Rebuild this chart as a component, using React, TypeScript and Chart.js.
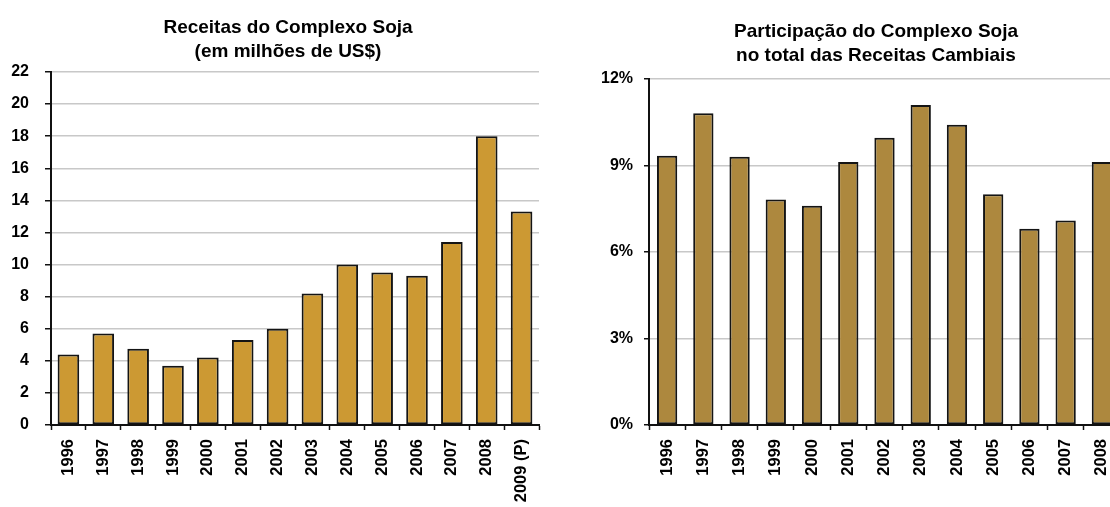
import React, { useEffect, useRef } from "react";
import { Chart, registerables } from "chart.js";

Chart.register(...registerables);

const leftCategories = ["1996", "1997", "1998", "1999", "2000", "2001", "2002", "2003", "2004", "2005", "2006", "2007", "2008", "2009 (P)"];
const leftValues = [4.4, 5.7, 4.75, 3.7, 4.2, 5.3, 6.0, 8.2, 10.0, 9.5, 9.3, 11.4, 18.0, 13.3];
const leftTitle = ["Receitas do Complexo Soja", "(em milhões de US$)"];

const rightCategories = ["1996", "1997", "1998", "1999", "2000", "2001", "2002", "2003", "2004", "2005", "2006", "2007", "2008"];
const rightValues = [9.34, 10.81, 9.3, 7.82, 7.6, 9.12, 9.96, 11.1, 10.41, 8.0, 6.81, 7.09, 9.12];
const rightTitle = ["Participação do Complexo Soja", "no total das Receitas Cambiais"];

const FONT = "'Liberation Sans', Arial, sans-serif";

function makeConfig(opts: {
  labels: string[];
  values: number[];
  title: string[];
  color: string;
  barPct: number;
  yMax: number;
  yStep: number;
  yFmt: (v: number) => string;
  padR: number;
  yWidth: number;
  yPad: number;
  yTickLen: number;
  titleTop: number;
  titleBottom: number;
  titleShift: number;
}): any {
  return {
    type: "bar",
    data: {
      labels: opts.labels,
      datasets: [
        {
          data: opts.values,
          backgroundColor: opts.color,
          borderColor: "#141414",
          borderWidth: 2,
          borderSkipped: false,
          categoryPercentage: 1,
          barPercentage: opts.barPct,
        },
      ],
    },
    plugins: [
      {
        id: "titleShift",
        afterLayout: (chart: any) => {
          const t = chart.titleBlock;
          if (t) {
            t.left += opts.titleShift;
            t.right += opts.titleShift;
          }
        },
      },
    ],
    options: {
      responsive: false,
      animation: false,
      layout: { padding: { left: 0, right: opts.padR, top: 0, bottom: 0 } },
      plugins: {
        legend: { display: false },
        tooltip: { enabled: false },
        title: {
          display: true,
          text: opts.title,
          color: "#000",
          font: { family: FONT, size: 19, weight: "bold", lineHeight: 24 / 19 },
          padding: { top: opts.titleTop, bottom: opts.titleBottom },
        },
      },
      scales: {
        x: {
          grid: {
            display: true,
            drawOnChartArea: false,
            drawTicks: true,
            tickLength: 5,
            tickColor: "#111",
            tickWidth: 1.5,
            offset: true,
          },
          border: { display: true, color: "#111", width: 2 },
          ticks: {
            color: "#000",
            font: { family: FONT, size: 16.5, weight: "bold" },
            minRotation: 90,
            maxRotation: 90,
            autoSkip: false,
            padding: 9,
          },
          afterFit: (s: any) => {
            s.height = 82;
          },
        },
        y: {
          min: 0,
          max: opts.yMax,
          grid: {
            color: "#c8c8c8",
            lineWidth: 1.5,
            tickLength: opts.yTickLen,
            tickColor: "#111",
            tickWidth: 1.5,
          },
          border: { display: true, color: "#111", width: 2 },
          ticks: {
            stepSize: opts.yStep,
            color: "#000",
            font: { family: FONT, size: 16, weight: "bold" },
            padding: opts.yPad,
            callback: (v: any) => opts.yFmt(Number(v)),
          },
          afterFit: (s: any) => {
            s.width = opts.yWidth;
          },
        },
      },
    },
  };
}

function BarChart(props: { config: any; left: number; width: number }) {
  const ref = useRef<HTMLCanvasElement | null>(null);
  useEffect(() => {
    if (!ref.current) return;
    const chart = new Chart(ref.current, props.config);
    return () => chart.destroy();
  }, []);
  return (
    <canvas
      ref={ref}
      width={props.width}
      height={507}
      style={{ position: "absolute", left: props.left, top: 0, width: props.width, height: 507 }}
    />
  );
}

export default function App() {
  const leftConfig = makeConfig({
    labels: leftCategories,
    values: leftValues,
    title: leftTitle,
    color: "#cc9933",
    barPct: 0.62,
    yMax: 22,
    yStep: 2,
    yFmt: (v) => String(v),
    padR: 16,
    yWidth: 51,
    yPad: 16,
    yTickLen: 6,
    titleTop: 15.5,
    titleBottom: 8.5,
    titleShift: 18.5,
  });
  const rightConfig = makeConfig({
    labels: rightCategories,
    values: rightValues,
    title: rightTitle,
    color: "#ad883e",
    barPct: 0.56,
    yMax: 12,
    yStep: 3,
    yFmt: (v) => v + "%",
    padR: 20,
    yWidth: 89,
    yPad: 11,
    yTickLen: 5,
    titleTop: 19.5,
    titleBottom: 11.5,
    titleShift: 36,
  });
  return (
    <div
      style={{
        position: "absolute",
        left: 0,
        top: 0,
        width: 1110,
        height: 507,
        overflow: "hidden",
        background: "#fff",
      }}
    >
      <BarChart config={leftConfig} left={0} width={555} />
      <BarChart config={rightConfig} left={560} width={580} />
    </div>
  );
}
